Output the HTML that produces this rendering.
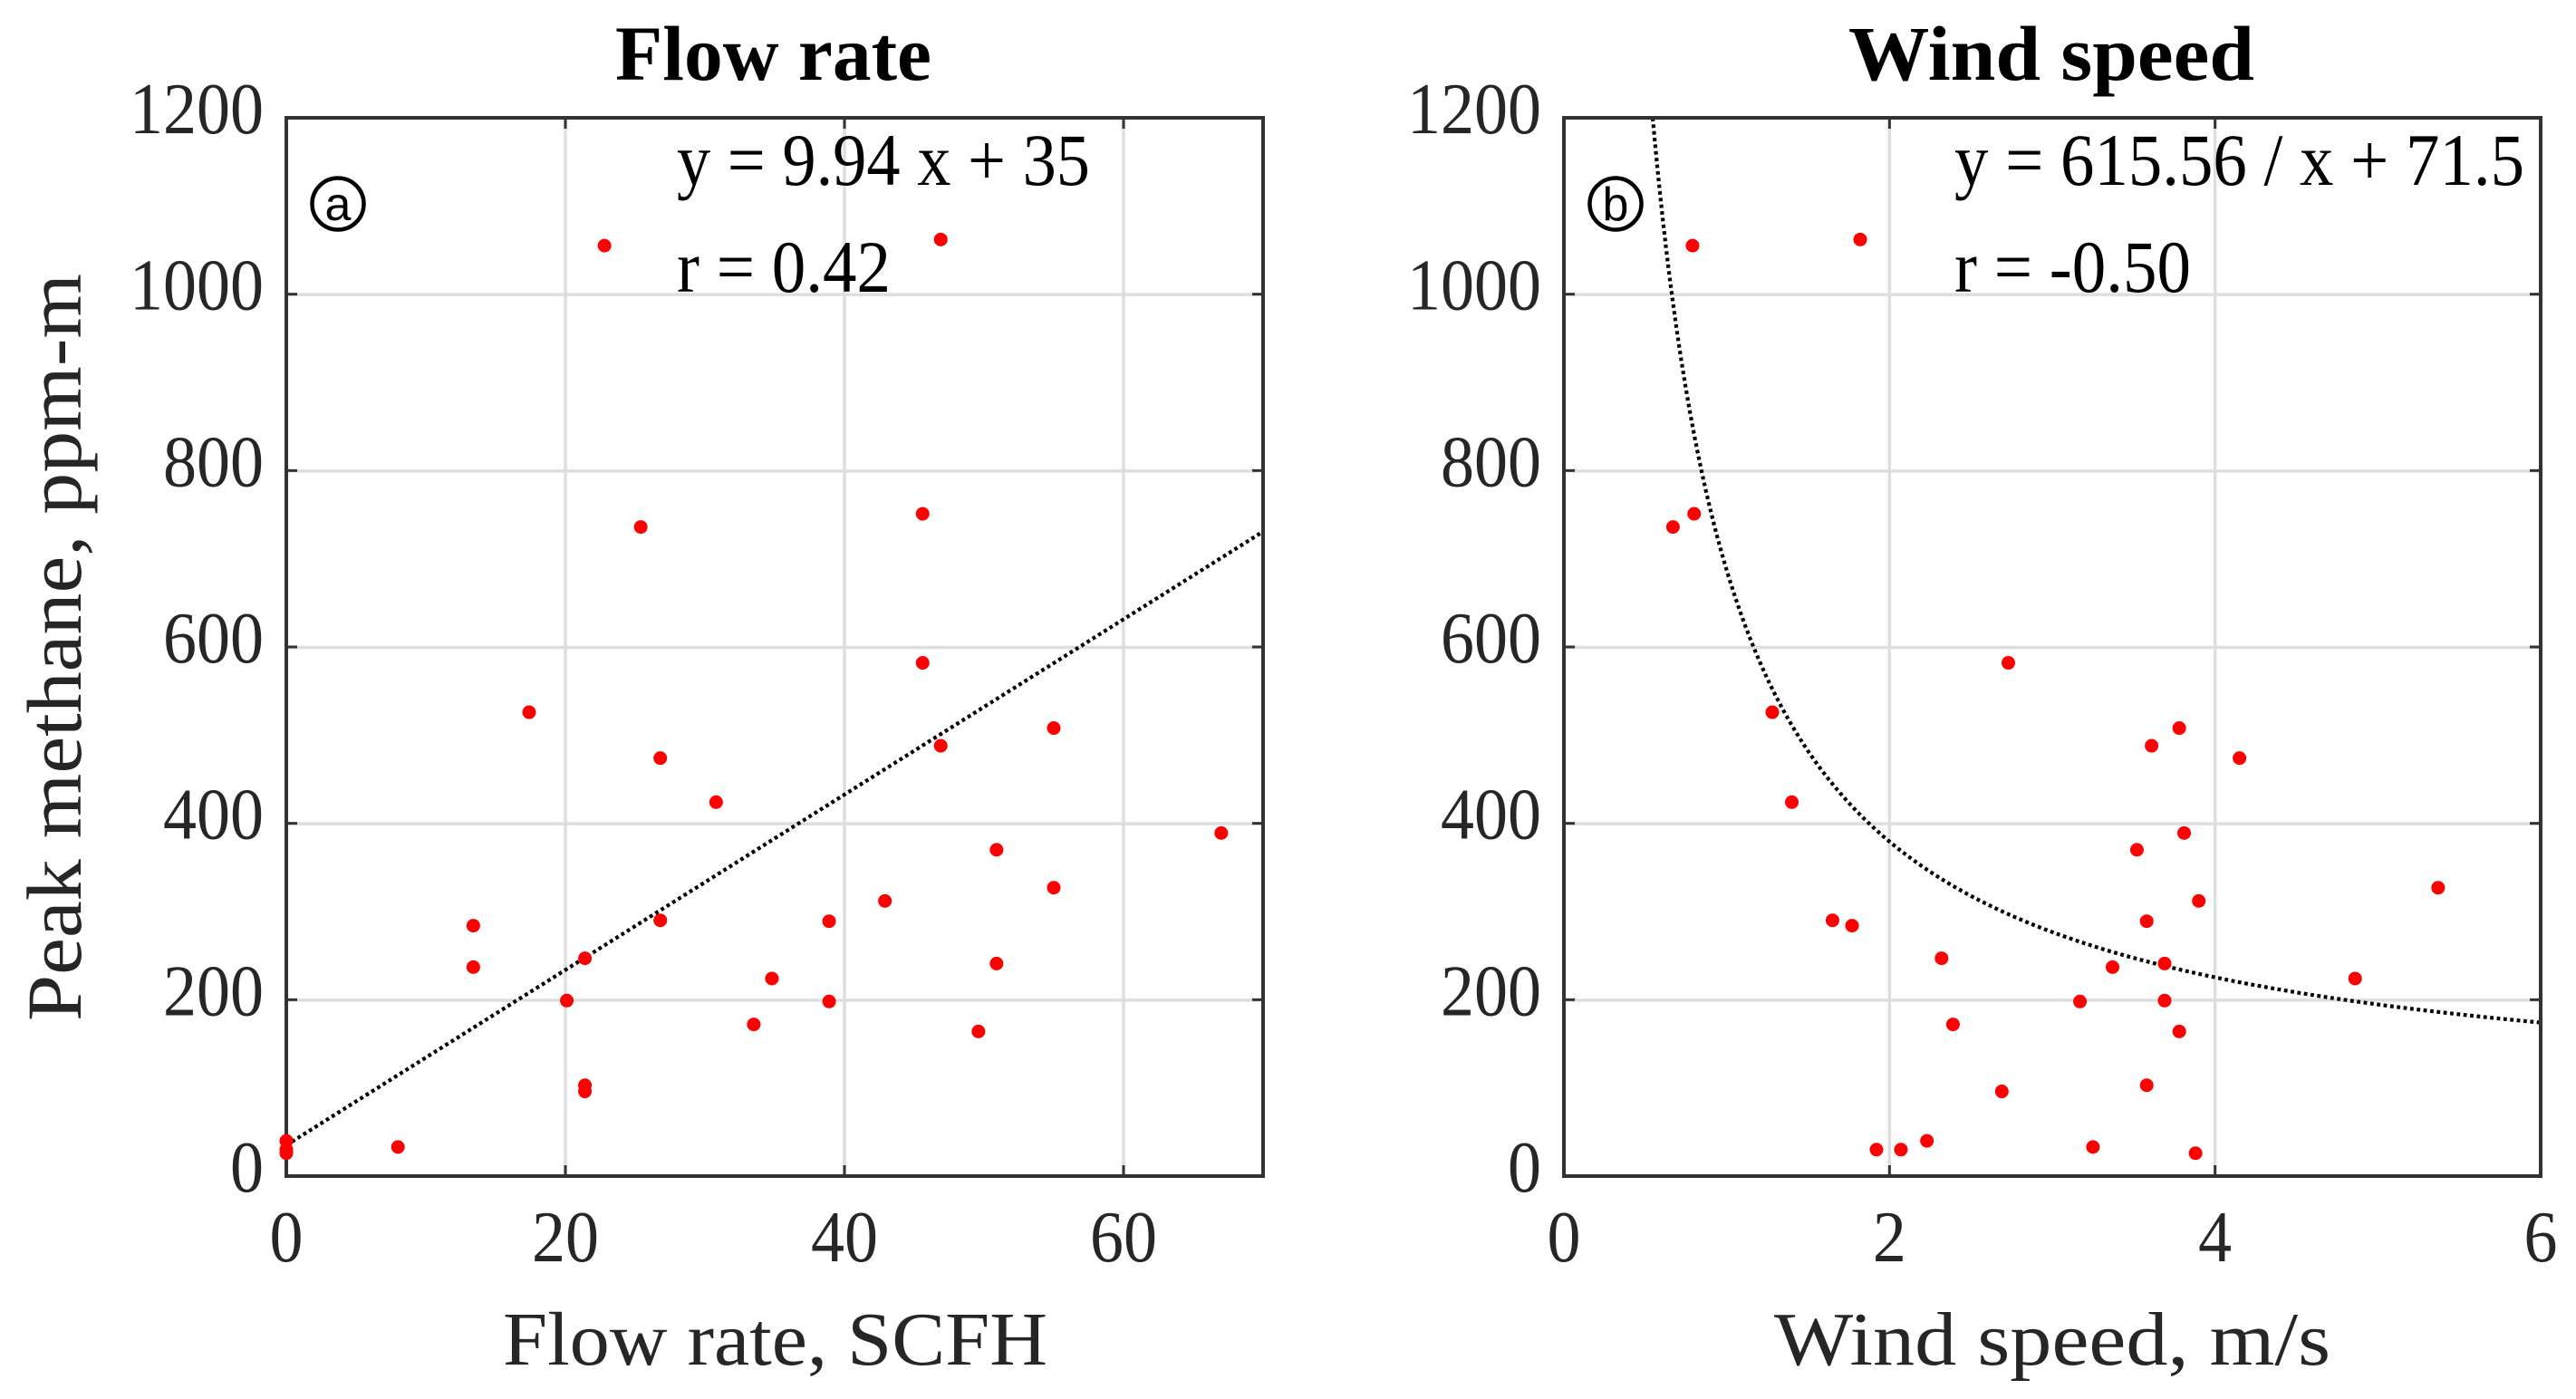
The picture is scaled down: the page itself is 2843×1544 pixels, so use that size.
<!DOCTYPE html>
<html lang="en">
<head>
<meta charset="utf-8">
<title>Peak methane vs flow rate and wind speed</title>
<style>
html,body{margin:0;padding:0;background:#fff;}
svg{display:block;font-family:"Liberation Serif",serif;}
</style>
</head>
<body>
<svg id="figure" xmlns="http://www.w3.org/2000/svg" width="2843" height="1544" viewBox="0 0 2843 1544">
  <rect x="0" y="0" width="2843" height="1544" fill="#ffffff"/>
  <text x="679" y="88" font-size="86" font-weight="bold" fill="#000" textLength="349" lengthAdjust="spacingAndGlyphs">Flow rate</text>
  <text x="2040" y="88" font-size="86" font-weight="bold" fill="#000" textLength="448" lengthAdjust="spacingAndGlyphs">Wind speed</text>
  <text transform="translate(89 1127) rotate(-90)" font-size="86" fill="#262626" textLength="825" lengthAdjust="spacingAndGlyphs">Peak methane, ppm-m</text>
  <text x="555" y="1506" font-size="84" fill="#262626" textLength="601" lengthAdjust="spacingAndGlyphs">Flow rate, SCFH</text>
  <text x="1958" y="1506" font-size="84" fill="#262626" textLength="614" lengthAdjust="spacingAndGlyphs">Wind speed, m/s</text>
  <g id="panel-a"></g>
  <g id="panel-b"></g>
  <text x="747" y="204" font-size="82" fill="#000" textLength="456" lengthAdjust="spacingAndGlyphs">y = 9.94 x + 35</text>
  <text x="747" y="322" font-size="82" fill="#000" textLength="236" lengthAdjust="spacingAndGlyphs">r = 0.42</text>
  <text x="2157" y="204" font-size="82" fill="#000" textLength="629" lengthAdjust="spacingAndGlyphs">y = 615.56 / x + 71.5</text>
  <text x="2157" y="322" font-size="82" fill="#000" textLength="261" lengthAdjust="spacingAndGlyphs">r = -0.50</text>
  <circle cx="373" cy="225" r="28.5" fill="#fff" stroke="#000" stroke-width="4.5"/>
  <text x="373" y="243" font-size="52" text-anchor="middle" fill="#000" style="font-family:'Liberation Sans',sans-serif">a</text>
  <circle cx="1783" cy="225" r="28.5" fill="none" stroke="#000" stroke-width="4.5"/>
  <text x="1783" y="243" font-size="52" text-anchor="middle" fill="#000" style="font-family:'Liberation Sans',sans-serif">b</text>
</svg>
<script>
const peakMethane = [1055,1062,736,751,582,526,508,488,474,424,389,370,327,312,290,289,284,247,237,241,224,198,199,172,164,103,96,33,40,30,30,26];
const flowRate = [22.8,46.9,25.4,45.6,45.6,17.4,55.0,46.9,26.8,30.8,67.0,50.9,55.0,42.9,26.8,38.9,13.4,21.4,13.4,50.9,34.8,38.9,20.1,33.5,49.6,21.4,21.4,8.0,0,0,0,0];
const windSpeed = [0.79,1.82,0.67,0.80,2.73,1.28,3.78,3.61,4.15,1.40,3.81,3.52,5.37,3.90,1.65,3.58,1.77,2.32,3.37,3.69,4.86,3.17,3.69,2.39,3.78,3.58,2.69,3.25,2.23,1.92,2.07,3.88];
const yTicks = [0,200,400,600,800,1000,1200];
const flowTicks = [0,20,40,60];
const windTicks = [0,2,4,6];
const flowFit = [9.94,35];
const windFit = [615.56,71.5];

const NS = 'http://www.w3.org/2000/svg';
function make(parent, tag, attrs, text) {
  const el = document.createElementNS(NS, tag);
  for (const k in attrs) el.setAttribute(k, attrs[k]);
  if (text !== undefined) el.textContent = text;
  parent.appendChild(el);
  return el;
}

function drawPanel(id, box, xMax, xTicks, xs, ys, fitFn, xStart) {
  const g = document.getElementById(id);
  const sx = v => box.l + (v / xMax) * (box.r - box.l);
  const sy = v => box.b - (v / 1200) * (box.b - box.t);

  xTicks.forEach(t => {
    const x = sx(t);
    if (t !== 0 && t !== xMax) {
      const grid = make(g, 'line', {x1:x, x2:x, y1:box.t, y2:box.b, stroke:'#dedede', 'stroke-width':3.5});
      
      
    }
  });
  yTicks.forEach(t => {
    const y = sy(t);
    if (t !== 0 && t !== 1200) {
      const grid = make(g, 'line', {x1:box.l, x2:box.r, y1:y+0.5, y2:y+0.5, stroke:'#dedede', 'stroke-width':3.5});
      
      
    }
  });

  const pts = [];
  const n = 400;
  for (let i = 0; i <= n; i++) {
    const x = xStart + (xMax - xStart) * i / n;
    pts.push(sx(x).toFixed(2) + ',' + sy(fitFn(x)).toFixed(2));
  }
  const fit = make(g, 'polyline', {points:pts.join(' '), fill:'none', stroke:'#000', 'stroke-width':4.2, 'stroke-dasharray':'3.8 3.6'});
  
  

  const frame = make(g, 'rect', {x:box.l, y:box.t, width:box.r-box.l, height:box.b-box.t, fill:'none', stroke:'#333333', 'stroke-width':4});
  
  

  xTicks.forEach(t => {
    const x = sx(t);
    if (t !== 0 && t !== xMax) {
      const m1 = make(g, 'line', {x1:x, x2:x, y1:box.b, y2:box.b-12, stroke:'#333333', 'stroke-width':3});
      
      
      const m2 = make(g, 'line', {x1:x, x2:x, y1:box.t, y2:box.t+12, stroke:'#333333', 'stroke-width':3});
      
      
    }
    const s = String(t);
    const lab = make(g, 'text', {x:x, y:1392, 'font-size':80, 'text-anchor':'middle', fill:'#262626', textLength:s.length*37, lengthAdjust:'spacingAndGlyphs'}, s);
    
    
  });
  yTicks.forEach(t => {
    const y = sy(t);
    if (t !== 0 && t !== 1200) {
      const m1 = make(g, 'line', {x1:box.l, x2:box.l+12, y1:y, y2:y, stroke:'#333333', 'stroke-width':3});
      
      
      const m2 = make(g, 'line', {x1:box.r, x2:box.r-12, y1:y, y2:y, stroke:'#333333', 'stroke-width':3});
      
      
    }
    const s = String(t);
    const lab = make(g, 'text', {x:box.l-25, y:y+17, 'font-size':80, 'text-anchor':'end', fill:'#262626', textLength:s.length*37, lengthAdjust:'spacingAndGlyphs'}, s);
    
    
  });

  xs.forEach((v, i) => {
    const dot = make(g, 'circle', {cx:sx(v), cy:sy(ys[i]), r:7.5, fill:'#ff0000'});
    
    
  });
}

drawPanel('panel-a', {l:316, r:1394, t:130, b:1298}, 70, flowTicks, flowRate, peakMethane, x => flowFit[0] * x + flowFit[1], 0);
drawPanel('panel-b', {l:1726, r:2804, t:130, b:1298}, 6, windTicks, windSpeed, peakMethane, x => windFit[0] / x + windFit[1], windFit[0] / (1200 - windFit[1]));
</script>
</body>
</html>
